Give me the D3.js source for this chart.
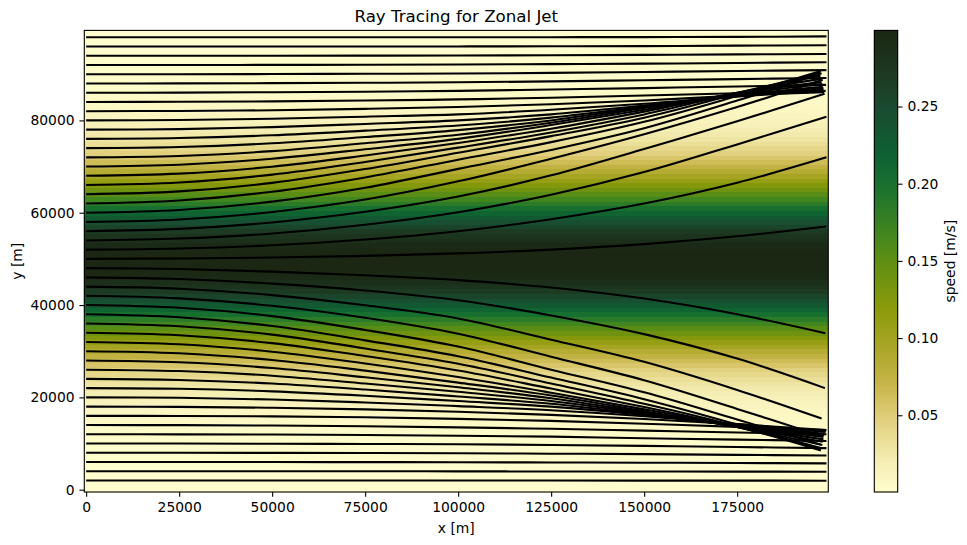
<!DOCTYPE html>
<html>
<head>
<meta charset="utf-8">
<script src="https://cdn.jsdelivr.net/npm/d3@7"></script>
<style>
  body { margin: 0; background: #fff; }
  text { font-family: "DejaVu Sans", sans-serif; fill: #000; }
  .tick text { font-size: 13.89px; }
</style>
</head>
<body>
<svg id="chart" width="967" height="545"></svg>
<script>
var xTicks = [0, 25000, 50000, 75000, 100000, 125000, 150000, 175000];
var yTicks = [0, 20000, 40000, 60000, 80000];
var barTicks = [0.05, 0.10, 0.15, 0.20, 0.25];

// colours
var colorValues = [0, 0.02, 0.05, 0.07, 0.10, 0.12, 0.15, 0.17, 0.20, 0.22, 0.25, 0.27, 0.30];
var colorHex = ["#fffdcd", "#f5eeb4", "#dfcd78", "#c8b54a", "#a3a31f", "#8a9a0a", "#5f8f14", "#3f8520",
                "#187030", "#0e6033", "#1a4a30", "#1d3a22", "#1b2613"];

// speed per grid row, y = 0, 1000, ... 99000
var speedRows = [
  .0003,.0003,.0003,.0003,.0003,.0004,.0005,.0007,.0009,.0012,
  .0015,.0020,.0026,.0034,.0043,.0054,.0069,.0087,.0106,.0133,
  .0162,.0198,.0239,.0286,.0339,.0404,.0474,.0555,.0645,.0746,
  .0856,.0975,.1104,.1241,.1386,.1536,.1689,.1845,.2000,.2153,
  .2299,.2439,.2565,.2684,.2783,.2867,.2933,.2975,.2997,.3000,
  .3000,.2997,.2975,.2933,.2867,.2783,.2684,.2565,.2439,.2299,
  .2153,.2000,.1845,.1689,.1536,.1386,.1241,.1104,.0975,.0856,
  .0746,.0645,.0555,.0474,.0404,.0339,.0286,.0239,.0198,.0162,
  .0133,.0106,.0087,.0069,.0054,.0043,.0034,.0026,.0020,.0015,
  .0012,.0009,.0007,.0005,.0004,.0003,.0003,.0003,.0003,.0003
];

// ray y in km at x = 0, 25, 50, 75, 100, 125, 150, 175 km and at the end of the ray
var rayKnotsX = [0, 25000, 50000, 75000, 100000, 125000, 150000, 175000];
var rayEndX = [
  199000, 199000, 199000, 199000, 199000, 199000, 199000, 199000, 198900, 198800,
  198400, 198400, 198200, 198200, 198000, 197900, 197700, 197500, 197400, 197400,
  197500, 197700, 198600, 198700, 198900,
  199000, 199000, 198500, 198000, 197700, 197500, 197400, 197400, 197500, 197700,
  197900, 198000, 198200, 198200, 198400, 198400, 198800, 198900, 199000, 199000,
  199000, 199000, 199000, 199000
];
var rayRows = [
  [2,2,2,2,1.99,1.98,1.97,1.96,1.95],
  [4,4,4,3.99,3.97,3.95,3.93,3.92,3.9],
  [6,6,5.99,5.97,5.95,5.9,5.85,5.78,5.7],
  [8,8,7.98,7.95,7.9,7.8,7.7,7.55,7.4],
  [10,9.99,9.96,9.9,9.85,9.7,9.5,9.25,9],
  [12,11.99,11.95,11.85,11.7,11.5,11.15,10.85,10.55],
  [14,13.98,13.9,13.73,13.5,13.2,12.8,12.4,12],
  [16,15.97,15.88,15.68,15.35,14.9,14.3,13.6,12.9],
  [18,17.94,17.75,17.4,16.9,16.2,15.3,14.2,12.9],
  [20,19.9,19.55,18.9,18.1,17.2,15.9,14.2,12.5],
  [22,21.85,21.3,20.35,19.2,18,16.2,14,12.1],
  [24,23.78,23,21.7,20.2,18.6,16.3,13.9,11.8],
  [26,25.7,24.7,23,21.2,19.2,16.5,13.8,11.4],
  [28,27.6,26.35,24.35,22.2,19.8,16.7,13.7,10.9],
  [30,29.55,28.1,25.8,23.2,20.4,17,13.6,10.4],
  [32,31.5,29.9,27.35,24.4,21,17.4,13.6,9.7],
  [34,33.45,31.75,28.95,25.8,21.9,17.9,13.6,9],
  [36,35.4,33.6,30.6,27.3,23,18.6,13.7,8.5],
  [38,37.35,35.45,32.35,28.9,24.3,19.6,14.1,8.7],
  [40,39.4,37.6,34.6,31,26,21.1,15.2,9.8],
  [42,41.45,39.85,37.25,33.8,28.8,23.7,17.5,11.7],
  [44,43.55,42.15,39.95,37.1,32.5,27.7,21.6,15.4],
  [46,45.65,44.65,43.15,41.05,37.75,33.7,28.4,22],
  [48,47.8,47.25,46.45,45.4,43.8,41.4,38,33.9],
  [50,50.1,50.3,50.65,51.2,52,53.2,54.9,57],
  [52,52.25,52.95,54.2,56,58.6,62,66.5,72],
  [54,54.4,55.5,57.4,60.1,63.9,68.8,74.8,80.8],
  [56,56.5,57.9,60.2,63.5,68.1,73.8,79.8,85.8],
  [58,58.55,60.15,62.85,66.8,71.7,77,82.9,88.8],
  [60,60.6,62.4,65.4,69.5,73.6,78.3,84.3,90.2],
  [62,62.65,64.55,67.65,71.5,75.3,79.7,85.3,90.7],
  [64,64.62,66.47,69.47,73,76.6,80.6,85.8,90.3],
  [66,66.55,68.25,71,74.1,77.4,81.3,86,89.7],
  [68,68.48,69.98,72.38,75.1,78.2,81.9,86,89],
  [70,70.4,71.7,73.75,76,79,82.3,85.9,88.3],
  [72,72.3,73.35,75.05,76.9,79.5,82.7,85.7,87.9],
  [74,74.25,75.05,76.4,77.9,80,82.9,85.5,87.3],
  [76,76.18,76.78,77.78,78.9,80.6,83,85.3,87],
  [78,78.12,78.54,79.24,80,81.3,83.2,85.2,86.7],
  [80,80.08,80.36,80.81,81.3,82.3,83.6,85.2,86.3],
  [82,82.05,82.2,82.5,82.9,83.5,84.3,85.4,86.1],
  [84,84.03,84.13,84.3,84.55,84.9,85.4,85.9,86.4],
  [86,86.02,86.1,86.22,86.4,86.7,87,87.35,87.7],
  [88,88.02,88.07,88.15,88.25,88.45,88.7,88.95,89.2],
  [90,90.01,90.04,90.1,90.15,90.3,90.5,90.7,90.9],
  [92,92.01,92.03,92.05,92.1,92.2,92.3,92.45,92.6],
  [94,94,94.01,94.03,94.06,94.12,94.2,94.3,94.4],
  [96,96,96.01,96.02,96.03,96.06,96.1,96.2,96.3],
  [98,98,98,98.01,98.01,98.03,98.05,98.1,98.2]
];

var svg = d3.select("#chart");
var plotLeft = 84.3, plotRight = 828.3, plotTop = 30.4, plotBottom = 492;
var barLeft = 874.3, barRight = 897.7;

var x = d3.scaleLinear().domain([-500, 199500]).range([plotLeft, plotRight]);
var y = d3.scaleLinear().domain([-500, 99500]).range([plotBottom, plotTop]);
var bar = d3.scaleLinear().domain([0.0003, 0.2993]).range([plotBottom, plotTop]);
var color = d3.scaleLinear().domain(colorValues).range(colorHex);

// jet field, one rect per grid row
svg.append("g").selectAll("rect")
  .data(speedRows)
  .enter()
  .append("rect")
  .attr("x", x(-500))
  .attr("width", x(199500) - x(-500))
  .attr("y", function(d, i) { return y(i * 1000 + 500); })
  .attr("height", function(d, i) { return y(i * 1000 - 500) - y(i * 1000 + 500) + 0.5; })
  .attr("fill", function(d) { return color(d); })
  .attr("shape-rendering", "crispEdges");

// rays
var line = d3.line()
  .x(function(d) { return x(d[0]); })
  .y(function(d) { return y(d[1] * 1000); })
  .curve(d3.curveCatmullRom.alpha(0.5));

svg.append("g").selectAll("path")
  .data(rayRows)
  .enter()
  .append("path")
  .attr("d", function(row, r) {
    var pts = row.map(function(v, i) {
      return [i < rayKnotsX.length ? rayKnotsX[i] : rayEndX[r], v];
    });
    return line(pts);
  })
  .attr("fill", "none")
  .attr("stroke", "#000")
  .attr("stroke-width", 2.08);

// frame and axes
svg.append("rect")
  .attr("x", plotLeft).attr("y", plotTop)
  .attr("width", plotRight - plotLeft).attr("height", plotBottom - plotTop)
  .attr("fill", "none").attr("stroke", "#000").attr("stroke-width", 1.1);

function styleAxis(g) {
  g.select(".domain").remove();
  g.selectAll(".tick line").attr("stroke", "#000").attr("stroke-width", 1.1);
  g.selectAll(".tick text").attr("fill", "#000");
}

svg.append("g")
  .attr("transform", "translate(0," + plotBottom + ")")
  .call(d3.axisBottom(x).tickValues(xTicks).tickSize(4.86).tickPadding(4.86).tickFormat(d3.format("d")))
  .call(styleAxis);

svg.append("g")
  .attr("transform", "translate(" + plotLeft + ",0)")
  .call(d3.axisLeft(y).tickValues(yTicks).tickSize(4.86).tickPadding(4.86).tickFormat(d3.format("d")))
  .call(styleAxis);

// colorbar
var levels = d3.range(256);
svg.append("g").selectAll("rect")
  .data(levels)
  .enter()
  .append("rect")
  .attr("x", barLeft)
  .attr("width", barRight - barLeft)
  .attr("y", function(d) { return plotBottom - (d + 1) * (plotBottom - plotTop) / 256; })
  .attr("height", (plotBottom - plotTop) / 256 + 0.5)
  .attr("fill", function(d) { return color(0.0003 + (d + 0.5) / 256 * 0.299); })
  .attr("shape-rendering", "crispEdges");

svg.append("rect")
  .attr("x", barLeft).attr("y", plotTop)
  .attr("width", barRight - barLeft).attr("height", plotBottom - plotTop)
  .attr("fill", "none").attr("stroke", "#000").attr("stroke-width", 1.1);

svg.append("g")
  .attr("transform", "translate(" + barRight + ",0)")
  .call(d3.axisRight(bar).tickValues(barTicks).tickSize(4.86).tickPadding(4.86).tickFormat(d3.format(".2f")))
  .call(styleAxis);

// labels
svg.append("text")
  .attr("x", (plotLeft + plotRight) / 2).attr("y", 22)
  .attr("text-anchor", "middle").style("font-size", "16.67px")
  .text("Ray Tracing for Zonal Jet");

svg.append("text")
  .attr("x", (plotLeft + plotRight) / 2).attr("y", 533)
  .attr("text-anchor", "middle").style("font-size", "13.89px")
  .text("x [m]");

svg.append("text")
  .attr("transform", "translate(22," + (plotTop + plotBottom) / 2 + ") rotate(-90)")
  .attr("text-anchor", "middle").style("font-size", "13.89px")
  .text("y [m]");

svg.append("text")
  .attr("transform", "translate(955," + (plotTop + plotBottom) / 2 + ") rotate(-90)")
  .attr("text-anchor", "middle").style("font-size", "13.89px")
  .text("speed [m/s]");
</script>
</body>
</html>
